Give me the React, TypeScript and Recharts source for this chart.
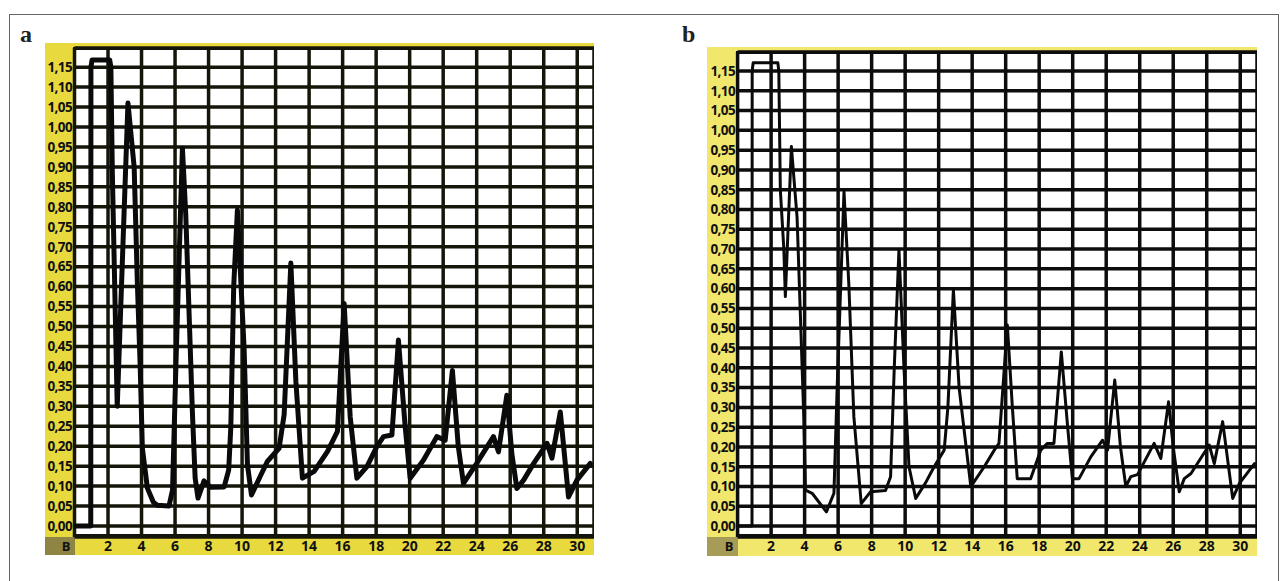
import React from 'react';
import { LineChart, Line, XAxis, YAxis, CartesianGrid } from 'recharts';

const xTicks = [2, 4, 6, 8, 10, 12, 14, 16, 18, 20, 22, 24, 26, 28, 30];
const yTicks = [0, 0.05, 0.1, 0.15, 0.2, 0.25, 0.3, 0.35, 0.4, 0.45, 0.5, 0.55, 0.6, 0.65, 0.7, 0.75, 0.8, 0.85, 0.9, 0.95, 1.0, 1.05, 1.1, 1.15];

// panel a: [x, y]
const panelAPoints: [number, number][] = [
  [0, 0], [0.97, 0], [0.98, 1.15], [1.05, 1.168], [2.1, 1.168], [2.17, 1.15], [2.26, 0.88], [2.55, 0.3],
  [3.19, 1.06], [3.56, 0.9], [3.75, 0.61], [3.92, 0.4], [4.05, 0.195], [4.35, 0.095], [4.7, 0.06], [4.94, 0.052],
  [5.64, 0.05], [5.85, 0.09], [6.05, 0.4], [6.44, 0.947], [6.64, 0.78], [6.84, 0.53], [7.04, 0.28], [7.2, 0.12],
  [7.37, 0.07], [7.73, 0.113], [8.13, 0.097], [8.93, 0.098], [9.2, 0.14], [9.33, 0.25], [9.5, 0.6], [9.72, 0.792],
  [10.12, 0.446], [10.32, 0.154], [10.56, 0.078], [11.12, 0.128], [11.51, 0.162], [12.21, 0.195], [12.51, 0.279],
  [12.91, 0.659], [13.21, 0.363], [13.6, 0.12], [14.3, 0.137], [15.1, 0.187], [15.69, 0.237], [16.09, 0.558],
  [16.45, 0.274], [16.85, 0.12], [17.45, 0.149], [18.04, 0.199], [18.44, 0.224], [18.94, 0.228], [19.33, 0.466],
  [19.73, 0.25], [20.03, 0.12], [20.82, 0.165], [21.62, 0.224], [22.12, 0.215], [22.55, 0.39], [22.9, 0.2],
  [23.21, 0.107], [24.0, 0.157], [25.0, 0.224], [25.3, 0.186], [25.8, 0.328], [26.1, 0.18], [26.4, 0.094],
  [26.8, 0.115], [27.4, 0.157], [28.2, 0.207], [28.49, 0.17], [28.99, 0.286], [29.48, 0.073], [29.98, 0.115],
  [30.78, 0.157],
];

// panel b: [x, y]
const panelBPoints: [number, number][] = [
  [0, 0], [0.86, 0], [0.87, 1.15], [0.93, 1.171], [2.4, 1.171], [2.46, 1.15], [2.55, 0.85], [2.76, 0.7],
  [2.85, 0.58], [3.21, 0.959], [3.55, 0.78], [3.75, 0.53], [3.95, 0.276], [4.05, 0.091], [4.45, 0.083],
  [5.3, 0.036], [5.75, 0.083], [5.95, 0.36], [6.35, 0.845], [6.64, 0.61], [6.94, 0.276], [7.38, 0.057],
  [7.94, 0.087], [8.83, 0.09], [9.13, 0.125], [9.35, 0.4], [9.63, 0.698], [9.93, 0.4], [10.23, 0.15],
  [10.63, 0.07], [11.2, 0.108], [11.73, 0.15], [12.33, 0.192], [12.55, 0.3], [12.88, 0.597], [13.22, 0.35],
  [13.92, 0.1], [14.72, 0.15], [15.32, 0.192], [15.6, 0.209], [16.1, 0.508], [16.4, 0.3], [16.69, 0.12],
  [17.49, 0.12], [18.09, 0.192], [18.49, 0.209], [18.88, 0.209], [19.32, 0.44], [19.7, 0.25], [19.98, 0.12],
  [20.38, 0.12], [21.08, 0.175], [21.78, 0.217], [22.08, 0.192], [22.51, 0.369], [22.85, 0.2], [23.17, 0.1],
  [23.47, 0.125], [23.87, 0.13], [24.86, 0.209], [25.26, 0.171], [25.72, 0.314], [26.0, 0.2], [26.36, 0.087],
  [26.66, 0.12], [27.06, 0.133], [28.15, 0.205], [28.45, 0.158], [28.95, 0.264], [29.55, 0.07], [29.95, 0.108],
  [30.85, 0.158],
];

const panelLetters = ['a', 'b'];
const cornerLabel = 'B';

const SANS = '"Open Sans", "Liberation Sans", sans-serif';
const fmt = (v: number) => v.toFixed(2).replace('.', ',');

type PanelProps = {
  points: [number, number][];
  left: number;
  top: number;
  width: number;
  height: number;
  axisW: number;
  topPad: number;
  axisH: number;
  yellow: string;
  bColor: string;
  lineW: number;
  gridW: number;
  gridColor: string;
};

function Panel(p: PanelProps) {
  const plotW = p.width - p.axisW;
  const plotH = p.height - p.topPad - p.axisH;
  const data = p.points.map(([x, y]) => ({ x, y }));
  const xTickStyle = { fontSize: 14, fontWeight: 700, fill: '#111', fontFamily: SANS };
  const yTickStyle = { fontSize: 13.5, fontWeight: 700, fill: '#111', fontFamily: SANS, letterSpacing: -0.6 };
  return (
    <div style={{ position: 'absolute', left: p.left, top: p.top, width: p.width, height: p.height, background: p.yellow }}>
      <div
        style={{
          position: 'absolute',
          left: p.axisW - 1.5,
          top: p.topPad - 1.5,
          width: plotW + 1.5,
          height: plotH + 1.5,
          background: '#fff',
          borderTop: '3px solid #111',
          borderLeft: '3px solid #111',
          borderBottom: '3px solid #111',
          borderRight: '1px solid #888',
          boxSizing: 'border-box',
        }}
      />
      <div
        style={{
          position: 'absolute',
          left: 0,
          top: p.height - p.axisH,
          width: p.axisW,
          height: p.axisH,
          background: p.bColor,
          boxSizing: 'border-box',
          paddingRight: 4,
          textAlign: 'right',
          fontFamily: SANS,
          fontWeight: 700,
          fontSize: 13,
          lineHeight: `${p.axisH}px`,
          color: '#111',
        }}
      >
        {cornerLabel}
      </div>
      <div style={{ position: 'absolute', left: 0, top: 0 }}>
        <LineChart width={p.width} height={p.height} data={data} margin={{ top: p.topPad, right: 0, bottom: 0, left: 0 }}>
          <CartesianGrid stroke={p.gridColor} strokeWidth={p.gridW} />
          <XAxis
            dataKey="x"
            type="number"
            domain={[0, 31]}
            ticks={xTicks}
            interval={0}
            height={p.axisH}
            axisLine={false}
            tickLine={false}
            tickSize={0}
            tickMargin={4}
            tick={xTickStyle}
            allowDataOverflow
          />
          <YAxis
            type="number"
            domain={[-0.0275, 1.198]}
            ticks={yTicks}
            interval={0}
            width={p.axisW}
            axisLine={false}
            tickLine={false}
            tickSize={0}
            tickMargin={2.5}
            tick={yTickStyle}
            tickFormatter={fmt}
            allowDataOverflow
          />
          <Line
            dataKey="y"
            type="linear"
            stroke="#0a0a0a"
            strokeWidth={p.lineW}
            dot={false}
            isAnimationActive={false}
            strokeLinejoin="round"
            strokeLinecap="round"
          />
        </LineChart>
      </div>
    </div>
  );
}

export default function App() {
  return (
    <div style={{ position: 'absolute', left: 0, top: 0, width: 1281, height: 581, overflow: 'hidden', background: '#fff' }}>
      <div style={{ position: 'absolute', left: 9, top: 14, width: 1270, height: 620, border: '1.5px solid #666', boxSizing: 'border-box' }} />
      <div style={{ position: 'absolute', left: 20, top: 22, fontFamily: '"Liberation Serif", serif', fontWeight: 700, fontSize: 24, lineHeight: '24px', color: '#222' }}>
        {panelLetters[0]}
      </div>
      <div style={{ position: 'absolute', left: 682, top: 22, fontFamily: '"Liberation Serif", serif', fontWeight: 700, fontSize: 24, lineHeight: '24px', color: '#222' }}>
        {panelLetters[1]}
      </div>
      <Panel
        points={panelAPoints}
        left={45}
        top={43}
        width={549}
        height={512}
        axisW={29.5}
        topPad={5}
        axisH={18}
        yellow="#e8da3e"
        bColor="#8e8444"
        lineW={5}
        gridW={3.5}
        gridColor="#15150a"
      />
      <Panel
        points={panelBPoints}
        left={707}
        top={47}
        width={550}
        height={509}
        axisW={30.6}
        topPad={5}
        axisH={19}
        yellow="#f1e76c"
        bColor="#a69c58"
        lineW={3}
        gridW={3.5}
        gridColor="#0d0d0d"
      />
    </div>
  );
}
